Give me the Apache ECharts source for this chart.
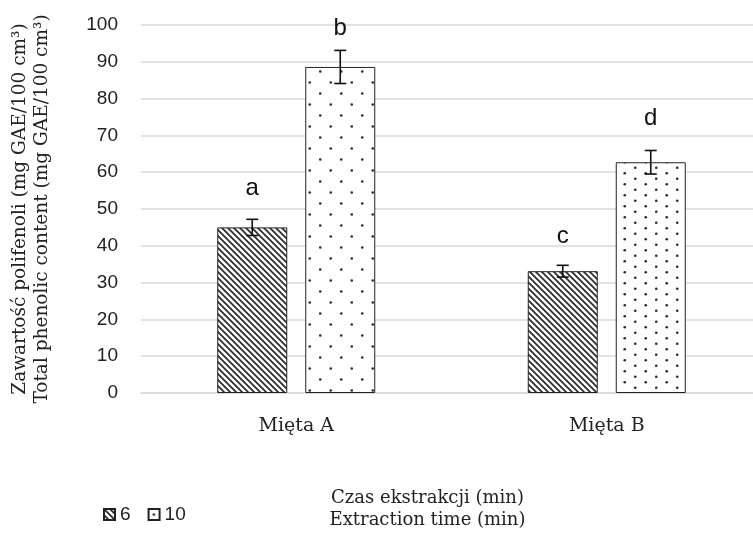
<!DOCTYPE html>
<html><head><meta charset="utf-8">
<script src="https://cdn.jsdelivr.net/npm/echarts@6/dist/echarts.min.js"></script>
<style>html,body{margin:0;padding:0;background:#fff;overflow:hidden}
#wrap{width:753px;height:536px;overflow:hidden;position:relative}
#c{width:770px;height:536px;position:absolute;left:0;top:0}</style>
</head><body><div id="wrap"><div id="c"></div></div>
<script>
const categories = ['Mięta A', 'Mięta B'];
const seriesNames = ['6', '10'];
const values6 = [45.0, 33.1];
const values10 = [88.6, 62.7];
const err6 = [2.2, 1.6];
const err10 = [4.5, 3.2];
const letters6 = ['a', 'c'];
const letters10 = ['b', 'd'];
const letterPos6 = [53.6, 40.7];
const letterPos10 = [97.3, 72.8];
const yTicks = [0, 10, 20, 30, 40, 50, 60, 70, 80, 90, 100];

const BAR_W = 70, BAR_GAP = 18;

function hatch() {
  const c = document.createElement('canvas'); c.width = c.height = 6;
  const g = c.getContext('2d');
  g.fillStyle = '#fff'; g.fillRect(0, 0, 6, 6);
  g.strokeStyle = '#2a2a2a'; g.lineWidth = 1.7;
  g.beginPath();
  g.moveTo(-1, -1); g.lineTo(7, 7);
  g.moveTo(-1, 5); g.lineTo(1, 7);
  g.moveTo(5, -1); g.lineTo(7, 1);
  g.stroke();
  return c;
}
function dots(w, h) {
  const c = document.createElement('canvas'); c.width = w; c.height = h;
  const g = c.getContext('2d');
  g.fillStyle = '#fff'; g.fillRect(0, 0, w, h);
  g.fillStyle = '#2a2a2a';
  g.beginPath(); g.arc(w / 4, h / 4, 1.3, 0, Math.PI * 2); g.fill();
  g.beginPath(); g.arc(3 * w / 4, 3 * h / 4, 1.3, 0, Math.PI * 2); g.fill();
  return c;
}
const dotsA = {image: dots(21, 22), repeat: 'repeat'};
const dotsB = {image: dots(21, 11), repeat: 'repeat'};

const errData = [];
categories.forEach((c, i) => {
  errData.push([i, values6[i], err6[i], -1, letters6[i], letterPos6[i]]);
  errData.push([i, values10[i], err10[i], 1, letters10[i], letterPos10[i]]);
});

const chart = echarts.init(document.getElementById('c'), null, {renderer: 'canvas'});
chart.setOption({
  animation: false,
  backgroundColor: '#fff',
  grid: {left: 141, width: 621, top: 25, height: 371},
  legend: {
    data: seriesNames, left: 98, top: 500, itemWidth: 11, itemHeight: 11, itemGap: 17,
    icon: 'rect',
    textStyle: {fontFamily: 'Liberation Sans', fontSize: 19, color: '#222', padding: [0, 0, 0, 0]}
  },
  xAxis: {
    type: 'category', data: categories,
    axisLine: {lineStyle: {color: '#d9d9d9', width: 1.5}},
    axisTick: {show: false},
    axisLabel: {fontFamily: 'DejaVu Serif', fontSize: 19, color: '#222', margin: 24},
    name: 'Czas ekstrakcji (min)\nExtraction time (min)',
    nameLocation: 'middle', nameGap: 94,
    nameTextStyle: {fontFamily: 'DejaVu Serif', fontSize: 18, color: '#222', lineHeight: 22, padding: [0, 48, 0, 0]}
  },
  yAxis: {
    type: 'value', min: yTicks[0], max: yTicks[yTicks.length - 1], interval: 10,
    axisLine: {show: false}, axisTick: {show: false},
    splitLine: {lineStyle: {color: '#d9d9d9', width: 1.5}},
    axisLabel: {fontFamily: 'Liberation Sans', fontSize: 19, color: '#222', margin: 23},
    name: 'Zawartość polifenoli (mg GAE/100 cm³)\nTotal phenolic content (mg GAE/100 cm³)',
    nameLocation: 'middle', nameGap: 88,
    nameTextStyle: {fontFamily: 'DejaVu Serif', fontSize: 18.5, color: '#222', lineHeight: 22}
  },
  series: [
    {
      name: seriesNames[0], type: 'bar', data: values6, barWidth: BAR_W, barGap: (BAR_GAP / BAR_W * 100) + '%',
      itemStyle: {color: {image: hatch(), repeat: 'repeat'}, borderColor: '#222', borderWidth: 1}
    },
    {
      name: seriesNames[1], type: 'bar', barWidth: BAR_W,
      data: values10.map((v, i) => ({value: v, itemStyle: {color: i === 0 ? dotsA : dotsB}})),
      itemStyle: {color: dotsA, borderColor: '#222', borderWidth: 1}
    },
    {
      type: 'custom', name: 'err', data: errData, z: 10,
      renderItem: function (params, api) {
        const cat = api.value(0), v = api.value(1), e = api.value(2), side = api.value(3);
        const off = side * (BAR_W + BAR_GAP) / 2;
        const top = api.coord([cat, v + e]);
        const bot = api.coord([cat, v - e]);
        const lp = api.coord([cat, errData[params.dataIndex][5]]);
        const x = top[0] + off;
        const cw = 6;
        const ls = {stroke: '#111', lineWidth: 1.6};
        return {
          type: 'group', children: [
            {type: 'line', shape: {x1: x, y1: top[1], x2: x, y2: bot[1]}, style: ls},
            {type: 'line', shape: {x1: x - cw, y1: top[1], x2: x + cw, y2: top[1]}, style: ls},
            {type: 'line', shape: {x1: x - cw, y1: bot[1], x2: x + cw, y2: bot[1]}, style: ls},
            {type: 'text', style: {text: errData[params.dataIndex][4], x: x, y: lp[1] + 5,
              align: 'center', verticalAlign: 'bottom',
              font: '24px "Liberation Sans"', fill: '#111'}}
          ]
        };
      }
    }
  ]
});
</script></body></html>
